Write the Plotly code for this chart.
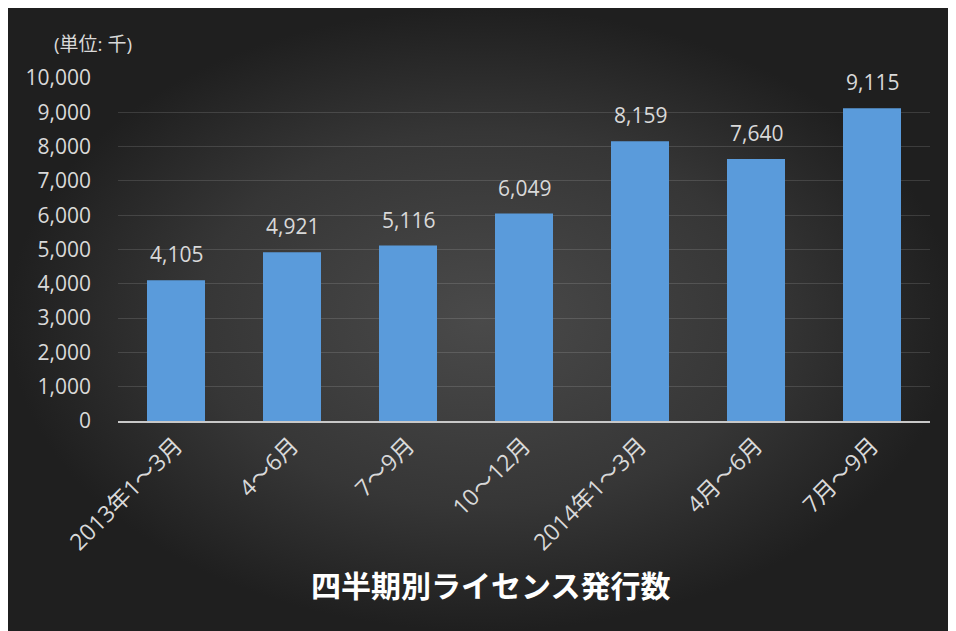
import plotly.graph_objects as go

categories = ["2013年1～3月", "4～6月", "7～9月", "10～12月", "2014年1～3月", "4月～6月", "7月～9月"]
values = [4105, 4921, 5116, 6049, 8159, 7640, 9115]
y_ticks = [0, 1000, 2000, 3000, 4000, 5000, 6000, 7000, 8000, 9000, 10000]
title_text = "四半期別ライセンス発行数"
unit_text = "(単位: 千)"

# page body has an 8px margin: the figure is placed at (8, 8) in the window
OFF = 8
W, H = 956 - OFF, 631 - OFF
FONT = "Open Sans, Noto Sans CJK JP, sans-serif"
TXT = "#d9d9d9"


def px(x):
    return (x - OFF) / W


def py(y):
    return 1 - (y - OFF) / H


fig = go.Figure()

# background panel with radial gradient (pixel coordinates on hidden axes)
fig.add_trace(go.Scatter(
    x=[0, W, W, 0, 0], y=[0, 0, H, H, 0],
    mode="lines", line=dict(width=0), fill="toself",
    fillgradient=dict(type="radial",
                      colorscale=[[0, "#4a4a4a"], [0.6, "#363636"], [1, "#1f1f1f"]]),
    hoverinfo="skip", showlegend=False, xaxis="x", yaxis="y",
))

fig.add_trace(go.Bar(
    x=categories, y=values, xaxis="x2", yaxis="y2",
    marker=dict(color="#5a9bdb", line=dict(width=0)),
    width=0.5, showlegend=False, hoverinfo="y",
))

for c, v in zip(categories, values):
    fig.add_annotation(x=c, y=v, xref="x2", yref="y2", text=f"{v:,}",
                       showarrow=False, yanchor="bottom", yshift=10,
                       font=dict(family=FONT, size=21, color=TXT))

fig.add_annotation(x=px(490), y=py(584), xref="paper", yref="paper",
                   text=f"<b>{title_text}</b>", showarrow=False,
                   xanchor="center", yanchor="middle",
                   font=dict(family="Noto Sans CJK JP", size=30, color="#ffffff"))
fig.add_annotation(x=px(52), y=py(44), xref="paper", yref="paper",
                   text=unit_text, showarrow=False, xanchor="left", yanchor="middle",
                   font=dict(family=FONT, size=19, color=TXT))

fig.update_layout(
    template="none",
    width=W, height=H,
    margin=dict(l=0, r=0, t=0, b=0, pad=0, autoexpand=False),
    paper_bgcolor="#2a2a2a",
    plot_bgcolor="rgba(0,0,0,0)",
    font=dict(family=FONT, color=TXT),
    xaxis=dict(domain=[0, 1], range=[0, W], visible=False, fixedrange=True,
               automargin=False),
    yaxis=dict(domain=[0, 1], range=[H, 0], visible=False, fixedrange=True,
               automargin=False),
    xaxis2=dict(domain=[px(118), px(930)], anchor="y2", automargin=False,
                tickangle=-45, tickfont=dict(family=FONT, size=23, color=TXT),
                showline=True, linecolor="#c8c8c8", linewidth=2,
                showgrid=False, zeroline=False, ticks=""),
    yaxis2=dict(domain=[py(421), py(78)], anchor="x2", automargin=False,
                range=[0, 10000], tickvals=y_ticks, tickformat=",",
                tickfont=dict(family=FONT, size=21, color=TXT),
                showgrid=True, gridcolor="rgba(255,255,255,0.13)", gridwidth=1,
                zeroline=False, showline=False, ticks="", ticklabelstandoff=26),
    bargap=0.5,
)

fig.write_html("out.html")
